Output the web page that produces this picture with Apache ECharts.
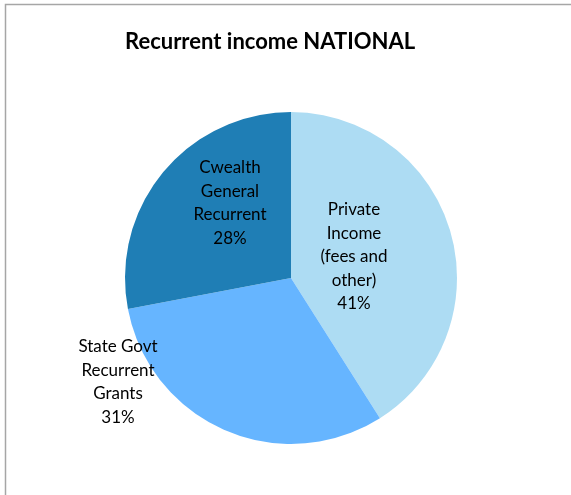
<!DOCTYPE html>
<html><head><meta charset="utf-8">
<script src="https://cdn.jsdelivr.net/npm/echarts@6/dist/echarts.min.js"></script>
<style>html,body{margin:0;padding:0;background:#fff}#c{width:571px;height:495px}</style>
</head><body><div id="c"></div>
<script>
const categories = ['Private\nIncome\n(fees and\nother)', 'State Govt\nRecurrent\nGrants', 'Cwealth\nGeneral\nRecurrent'];
const values = [41, 31, 28];
const colors = ['#ADDCF3', '#66B5FF', '#1F7EB5'];
const labelSpots = [[354, 257], [118, 382], [230, 203]];

const chart = echarts.init(document.getElementById('c'));
chart.setOption({
  animation: false,
  graphic: [{type:'rect', shape:{x:5.5,y:4.5,width:700,height:700}, style:{fill:'none', stroke:'#A6A6A6', lineWidth:1.5}, z:-1}],
  title: {text:'Recurrent income NATIONAL', left:120, top:26,
    textStyle:{fontFamily:'Lato', fontWeight:'bold', fontSize:22, color:'#000'}},
  series: [{
    type:'pie', center:[291,278], radius:166, startAngle:90, clockwise:true,
    data: categories.map((n,i)=>({name:n, value:values[i], itemStyle:{color:colors[i]}})),
    label:{show:true, position:'inside', formatter: p => p.name + '\n' + Math.round(p.percent) + '%',
      fontFamily:'Lato', fontSize:17, lineHeight:23.5, color:'#000', align:'center'},
    labelLine:{show:false},
    labelLayout: p => ({x: labelSpots[p.dataIndex][0], y: labelSpots[p.dataIndex][1], align:'center', verticalAlign:'middle'}),
    emphasis:{disabled:true}
  }]
});
</script></body></html>
